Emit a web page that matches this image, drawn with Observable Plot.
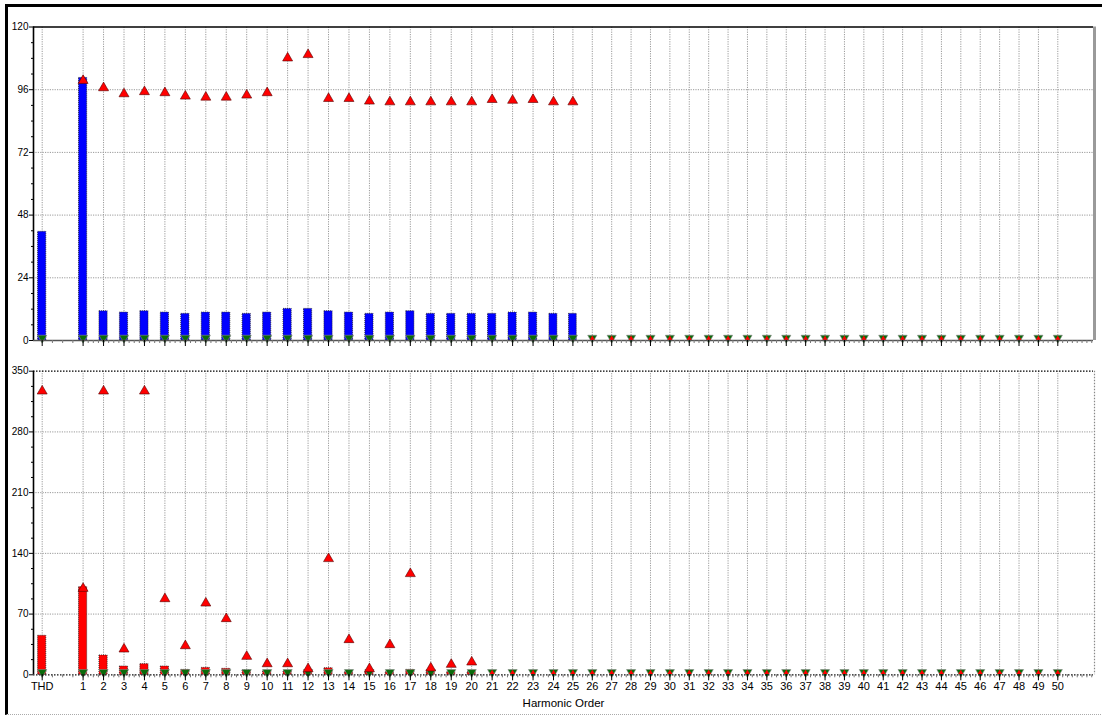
<!DOCTYPE html>
<html>
<head>
<meta charset="utf-8">
<script src="https://cdn.jsdelivr.net/npm/d3@7"></script>
<script src="https://cdn.jsdelivr.net/npm/@observablehq/plot@0.6"></script>
<style>
html, body { margin: 0; padding: 0; background: #fff; }
#wrap { position: relative; width: 1102px; height: 718px; overflow: hidden; }
#frame { position: absolute; left: 5px; top: 4px; width: 1110px; height: 711px; border-left: 3px solid #000; border-top: 3px solid #000; border-bottom: 1px dotted #aaa; box-sizing: border-box; }
#top { position: absolute; left: 0; top: 0; }
#bot { position: absolute; left: 0; top: 350px; }
svg { overflow: visible; }
</style>
</head>
<body>
<div id="wrap"><div id="frame"></div><div id="top"></div><div id="bot"></div></div>
<script>
// ---- categories (tick labels) ----
const labels = ["THD","1","2","3","4","5","6","7","8","9","10","11","12","13","14","15","16","17","18","19","20","21","22","23","24","25","26","27","28","29","30","31","32","33","34","35","36","37","38","39","40","41","42","43","44","45","46","47","48","49","50"];

// ---- upper panel ----
const topBars = [41.6, 100.5, 11.2, 10.7, 11.2, 10.7, 10.2, 10.7, 10.7, 10.2, 10.7, 12.1, 12.1, 11.2, 10.7, 10.2, 10.7, 11.2, 10.2, 10.2, 10.2, 10.2, 10.7, 10.7, 10.2, 10.2, 0, 0, 0, 0, 0, 0, 0, 0, 0, 0, 0, 0, 0, 0, 0, 0, 0, 0, 0, 0, 0, 0, 0, 0, 0];
const topRed = [null, 99.5, 96.7, 94.4, 95.2, 94.8, 93.5, 93.1, 93.1, 93.9, 94.8, 108.1, 109.4, 92.6, 92.6, 91.6, 91.3, 91.3, 91.3, 91.3, 91.3, 92.2, 91.9, 92.2, 91.3, 91.3, 0.8, 0.8, 0.8, 0.8, 0.8, 0.8, 0.8, 0.8, 0.8, 0.8, 0.8, 0.8, 0.8, 0.8, 0.8, 0.8, 0.8, 0.8, 0.8, 0.8, 0.8, 0.8, 0.8, 0.8, 0.8];
const topGreen = [1, 1, 1, 1, 1, 1, 1, 1, 1, 1, 1, 1, 1, 1, 1, 1, 1, 1, 1, 1, 1, 1, 1, 1, 1, 1, 1, 1, 1, 1, 1, 1, 1, 1, 1, 1, 1, 1, 1, 1, 1, 1, 1, 1, 1, 1, 1, 1, 1, 1, 1];
const topYTicks = [0, 24, 48, 72, 96, 120];

// ---- lower panel ----
const botBars = [45, 101, 22.3, 9.6, 12.3, 9.6, 5.7, 8, 6.9, 5, 4, 4, 3, 7.6, 3, 3, 3, 5.7, 3, 3, 3, 0, 0, 0, 0, 0, 0, 0, 0, 0, 0, 0, 0, 0, 0, 0, 0, 0, 0, 0, 0, 0, 0, 0, 0, 0, 0, 0, 0, 0, 0];
const botRed = [327, 99.5, 327, 29.6, 327, 87.6, 33.4, 82.6, 64.6, 21.1, 12.6, 12.6, 6.9, 133.8, 40.4, 6.9, 34.6, 116.5, 7.7, 11.9, 14.6, 2.5, 2.5, 2.5, 2.5, 2.5, 2.5, 2.5, 2.5, 2.5, 2.5, 2.5, 2.5, 2.5, 2.5, 2.5, 2.5, 2.5, 2.5, 2.5, 2.5, 2.5, 2.5, 2.5, 2.5, 2.5, 2.5, 2.5, 2.5, 2.5, 2.5];
const botGreen = [3, 3, 3, 3, 3, 3, 3, 3, 3, 3, 3, 3, 3, 3, 3, 3, 3, 3, 3, 3, 3, 3, 3, 3, 3, 3, 3, 3, 3, 3, 3, 3, 3, 3, 3, 3, 3, 3, 3, 3, 3, 3, 3, 3, 3, 3, 3, 3, 3, 3, 3];
const botYTicks = [0, 70, 140, 210, 280, 350];

const xAxisTitle = "Harmonic Order";

// ---- helpers ----
const FONT = '"Liberation Sans Narrow","Arial Narrow","Liberation Sans",Arial,sans-serif';
const posOf = l => (l === "THD" ? -1 : +l);
const labelAt = new Map(labels.map(l => [posOf(l), l]));
const positions = labels.map(posOf);
const xLo = -1.425, xHi = 51.84;
const xMinor = d3.range(-1, 52, 0.25).filter(v => v > xLo && v < xHi && !labelAt.has(v) && (v >= 1 || v % 0.5 === 0));

const downTriangle = {
  draw(context, size) {
    const y = -Math.sqrt(size / (Math.sqrt(3) * 3));
    context.moveTo(0, -2 * y);
    context.lineTo(-Math.sqrt(3) * y, y);
    context.lineTo(Math.sqrt(3) * y, y);
    context.closePath();
  }
};

function panel({bars, red, green, yTicks, fill, height, mt, mb, isTop}) {
  const yMax = yTicks[yTicks.length - 1];
  const step = yTicks[1] - yTicks[0];
  const yMinor = d3.range(0, yMax, step / 4).filter(v => !yTicks.includes(v));
  const rows = labels.map((l, i) => ({x: posOf(l), mag: bars[i], red: red[i], green: green[i]}));
  const bigRed = d => d.red != null && (d.mag > 0 || d.red > 20);
  const marks = [
    // grid
    Plot.ruleY(yTicks.filter(v => v > 0 && v < yMax), {stroke: "#9a9a9a", strokeDasharray: "1.2,1.2"}),
    Plot.ruleX(rows, {x: "x", y1: 0, y2: yMax, stroke: "#9a9a9a", strokeDasharray: "1.2,1.2"}),
    // bars
    Plot.rectY(rows.filter(d => d.mag > 0), {x1: d => d.x - 0.2, x2: d => d.x + 0.2, y1: 0, y2: "mag", fill, stroke: "#222", strokeWidth: 0.8, strokeDasharray: "1,1"}),
    // green markers
    Plot.dot(rows, {x: "x", y: "green", symbol: downTriangle, r: 3.4, fill: "#0a6a0a", stroke: "#888", strokeWidth: 0.6}),
    // red markers
    Plot.dot(rows.filter(bigRed), {x: "x", y: "red", symbol: "triangle", r: 3.7, fill: "#ff0000", stroke: "#500", strokeWidth: 0.6}),
    Plot.dot(rows.filter(d => d.red != null && !bigRed(d)), {x: "x", y: "red", symbol: "triangle", r: 1.9, fill: "#ff0000", stroke: "none"}),
    // frame
    Plot.ruleX([xLo], {stroke: "#000", strokeWidth: 1.6}),
    Plot.ruleX([xHi], {stroke: isTop ? "#9a9a9a" : "#888", strokeWidth: isTop ? 3 : 1.2, dx: 1, strokeDasharray: isTop ? null : "1.5,1.5"}),
    Plot.ruleY([yMax], {stroke: "#000", strokeWidth: isTop ? 1.6 : 1.2, strokeDasharray: isTop ? null : "1.5,1.5"}),
    Plot.ruleY([0], {stroke: isTop ? "#555" : "#111", strokeWidth: isTop ? 1.6 : 1.3, strokeDasharray: isTop ? null : "1.5,1.5"}),
    // axes
    Plot.axisY({ticks: yTicks, tickSize: 4, tickPadding: 1, fontSize: 10, label: null}),
    Plot.axisY({ticks: yMinor, tickSize: 2, tickFormat: () => "", label: null}),
    Plot.axisX({ticks: positions, tickSize: 6, tickPadding: 1, fontSize: 11, label: null, tickFormat: v => (isTop ? "" : labelAt.get(v))}),
    Plot.axisX({ticks: xMinor, tickSize: 3, tickFormat: () => "", label: null, stroke: "#777"})
  ];
  if (!isTop) {
    marks.push(Plot.text([xAxisTitle], {text: d => d, frameAnchor: "bottom", dy: 29, lineAnchor: "middle", fontSize: 11.5}));
  }
  return Plot.plot({
    width: 1102,
    height,
    marginLeft: 33,
    marginRight: 9,
    marginTop: mt,
    marginBottom: mb,
    style: {fontFamily: FONT, background: "transparent", color: "#000"},
    x: {type: "linear", domain: [xLo, 24, xHi], range: [33, 553, 1093], label: null},
    y: {domain: [0, yMax], label: null},
    marks
  });
}

document.getElementById("top").appendChild(panel({
  bars: topBars, red: topRed, green: topGreen, yTicks: topYTicks, fill: "#0000ff",
  height: 350, mt: 26.5, mb: 10, isTop: true
}));
document.getElementById("bot").appendChild(panel({
  bars: botBars, red: botRed, green: botGreen, yTicks: botYTicks, fill: "#ff0000",
  height: 368, mt: 20.7, mb: 43.7, isTop: false
}));
</script>
</body>
</html>
